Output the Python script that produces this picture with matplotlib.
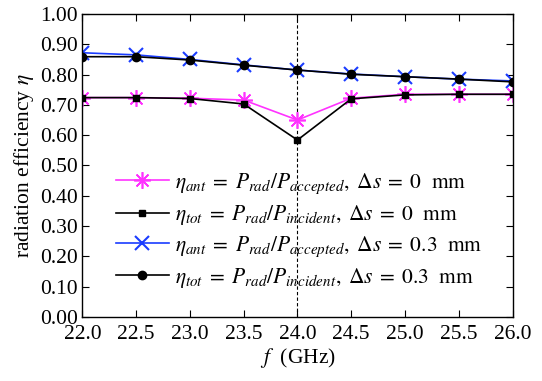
import matplotlib
matplotlib.use("Agg")
import matplotlib.pyplot as plt
from matplotlib.ticker import MultipleLocator, FormatStrFormatter

plt.rcParams['font.family'] = ['Liberation Serif', 'DejaVu Serif']
plt.rcParams['mathtext.fontset'] = 'stix'

freq = [22.0, 22.5, 23.0, 23.5, 24.0, 24.5, 25.0, 25.5, 26.0]
eta_ant_0 = [0.724, 0.724, 0.722, 0.716, 0.650, 0.722, 0.735, 0.735, 0.735]
eta_tot_0 = [0.724, 0.724, 0.721, 0.703, 0.584, 0.720, 0.733, 0.735, 0.735]
eta_ant_03 = [0.872, 0.865, 0.850, 0.832, 0.815, 0.802, 0.793, 0.785, 0.779]
eta_tot_03 = [0.859, 0.859, 0.848, 0.831, 0.815, 0.801, 0.793, 0.785, 0.776]
labels = [
    r'$\eta_{ant}\;=\;P_{rad}/P_{accepted},\; \Delta s\;=\;0\ \ \mathrm{mm}$',
    r'$\eta_{tot}\;=\;P_{rad}/P_{incident},\; \Delta s\;=\;0\ \ \mathrm{mm}$',
    r'$\eta_{ant}\;=\;P_{rad}/P_{accepted},\; \Delta s\;=\;0.3\ \ \mathrm{mm}$',
    r'$\eta_{tot}\;=\;P_{rad}/P_{incident},\; \Delta s\;=\;0.3\ \ \mathrm{mm}$',
]

FS = 15.5
fig = plt.figure(figsize=(5.42, 3.81), dpi=100)
ax = fig.add_axes([0.152, 0.168, 0.7936, 0.7953])

ax.axvline(24.0, color='black', linestyle='--', linewidth=0.8, dashes=(3, 2))
ax.plot(freq, eta_ant_0, color='#ff33ff', marker=(8, 2, 0), markersize=12,
        markeredgewidth=1.2, linewidth=1.2, label=labels[0])
ax.plot(freq, eta_tot_0, color='black', marker='s', markersize=5,
        linewidth=1.2, label=labels[1])
ax.plot(freq, eta_ant_03, color='#1a3cff', marker='x', markersize=10,
        markeredgewidth=1.5, linewidth=1.2, label=labels[2])
ax.plot(freq, eta_tot_03, color='black', marker='o', markersize=6,
        linewidth=1.2, label=labels[3])

ax.set_xlim(22.0, 26.0)
ax.set_ylim(0.0, 1.0)
ax.xaxis.set_major_locator(MultipleLocator(0.5))
ax.yaxis.set_major_locator(MultipleLocator(0.1))
ax.xaxis.set_major_formatter(FormatStrFormatter('%.1f'))
ax.yaxis.set_major_formatter(FormatStrFormatter('%.2f'))
ax.tick_params(direction='in', top=True, right=True, labelsize=FS, length=5)
ax.tick_params(axis='x', pad=6)
ax.tick_params(axis='y', pad=3)
for s in ax.spines.values():
    s.set_linewidth(1.0)

ax.set_xlabel(r'$f$  (GHz)', fontsize=FS, labelpad=1)
ax.set_ylabel(r'radiation efficiency $\eta$', fontsize=FS, labelpad=3)

ax.legend(loc='center left', bbox_to_anchor=(0.058, 0.285), frameon=False,
          fontsize=FS, handlelength=2.45, handletextpad=0.3, labelspacing=0.33,
          borderaxespad=0)

fig.savefig('out.png', dpi=100)
